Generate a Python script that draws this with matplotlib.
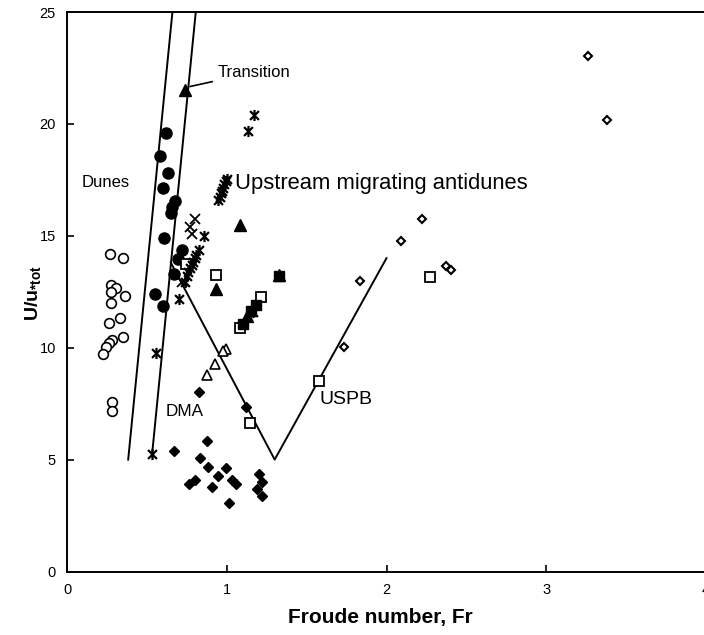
import matplotlib
matplotlib.use("Agg")
import matplotlib.pyplot as plt
from matplotlib.path import Path
import numpy as np

plt.rcParams['font.family'] = ['Liberation Sans', 'DejaVu Sans']
plt.rcParams['mathtext.fontset'] = 'custom'
plt.rcParams['mathtext.rm'] = 'Liberation Sans'
plt.rcParams['mathtext.bf'] = 'Liberation Sans:bold'

# ---- data: Froude number (x) and U/u*tot (y) per bedform group ----
dunes_open_x = [0.269, 0.352, 0.273, 0.304, 0.273, 0.362, 0.273, 0.331, 0.264, 0.348, 0.283, 0.264, 0.244, 0.227, 0.279, 0.279]
dunes_open_y = [14.2, 14.02, 12.78, 12.66, 12.48, 12.33, 12.0, 11.32, 11.11, 10.47, 10.35, 10.2, 10.02, 9.70, 7.57, 7.19]

dunes_fill_x = [0.62, 0.58, 0.63, 0.60, 0.675, 0.66, 0.65, 0.61, 0.72, 0.695, 0.67, 0.55, 0.60]
dunes_fill_y = [19.6, 18.55, 17.8, 17.13, 16.55, 16.28, 16.0, 14.88, 14.35, 13.95, 13.3, 12.38, 11.88]

tri_fill_x = [0.738, 1.085, 0.931, 1.325, 1.127]
tri_fill_y = [21.52, 15.48, 12.63, 13.23, 11.40]

tri_open_x = [0.994, 0.977, 0.925, 0.879]
tri_open_y = [9.95, 9.87, 9.25, 8.79]

dma_x = [0.825, 1.123, 0.879, 0.669, 0.835, 0.883, 0.994, 0.946, 1.035, 1.056, 0.80, 0.765, 0.91, 1.015, 1.202, 1.22, 1.19, 1.22]
dma_y = [8.04, 7.37, 5.85, 5.38, 5.07, 4.66, 4.62, 4.26, 4.11, 3.92, 4.07, 3.89, 3.77, 3.05, 4.37, 3.99, 3.70, 3.37]

sq_open_x = [0.742, 0.935, 1.148, 1.575, 2.275, 1.085, 1.217]
sq_open_y = [13.75, 13.23, 6.64, 8.53, 13.18, 10.88, 12.26]

sq_fill_x = [1.185, 1.154, 1.10, 1.325]
sq_fill_y = [11.89, 11.66, 11.07, 13.20]

dia_open_x = [3.263, 3.383, 2.223, 2.09, 2.37, 2.404, 1.831, 1.733]
dia_open_y = [23.03, 20.18, 15.76, 14.75, 13.67, 13.45, 13.0, 10.05]

umad_x = [1.171, 1.13, 0.945, 0.955, 0.962, 0.97, 0.978, 0.985, 0.993, 1.0,
          0.856, 0.70, 0.56, 0.533,
          0.74, 0.75, 0.76, 0.77, 0.78, 0.79, 0.80, 0.81, 0.825, 1.165]
umad_y = [20.41, 19.68, 16.6, 16.75, 16.9, 17.0, 17.15, 17.3, 17.45, 17.55,
          15.01, 12.18, 9.75, 5.26,
          12.95, 13.2, 13.4, 13.55, 13.7, 13.85, 14.0, 14.15, 14.38, 11.6]

cross_x = [0.80, 0.77, 0.785, 0.72]
cross_y = [15.75, 15.4, 15.1, 12.95]

# ---- boundary lines between bedform fields ----
bound1_x = [0.383, 0.66]
bound1_y = [5.0, 25.0]
bound2_x = [0.533, 0.806]
bound2_y = [5.26, 25.0]
uspb_x = [0.65, 1.30, 2.0]
uspb_y = [13.8, 5.0, 14.0]

x_ticks = [0, 1, 2, 3, 4]
y_ticks = [0, 5, 10, 15, 20, 25]

# asterisk marker: an X crossed by a vertical stroke
ast = Path([(-1, -1), (1, 1), (-1, 1), (1, -1), (0, -1.25), (0, 1.25)],
           [Path.MOVETO, Path.LINETO, Path.MOVETO, Path.LINETO, Path.MOVETO, Path.LINETO])

fig = plt.figure(figsize=(7.04, 6.35), dpi=100)
ax = fig.add_axes([67 / 704, 1 - 571.5 / 635, 639 / 704, 559.5 / 635])

k = 'black'
ax.plot(bound1_x, bound1_y, color=k, lw=1.4)
ax.plot(bound2_x, bound2_y, color=k, lw=1.4)
ax.plot(uspb_x, uspb_y, color=k, lw=1.4)

ax.plot(dunes_open_x, dunes_open_y, 'o', ms=7, mfc='white', mec=k, mew=1.2, ls='none')
ax.plot(dunes_fill_x, dunes_fill_y, 'o', ms=8, mfc=k, mec=k, ls='none')
ax.plot(tri_open_x, tri_open_y, '^', ms=7, mfc='white', mec=k, mew=1.2, ls='none')
ax.plot(dma_x, dma_y, 'D', ms=5.5, mfc=k, mec=k, ls='none')
ax.plot(sq_open_x, sq_open_y, 's', ms=7, mfc='white', mec=k, mew=1.3, ls='none')
ax.plot(sq_fill_x, sq_fill_y, 's', ms=7, mfc=k, mec=k, ls='none')
ax.plot(tri_fill_x, tri_fill_y, '^', ms=8.5, mfc=k, mec=k, ls='none')
ax.plot(dia_open_x, dia_open_y, 'D', ms=4.2, mfc='white', mec=k, mew=1.5, ls='none')
ax.plot(umad_x, umad_y, marker=ast, ms=8, mec=k, mew=1.6, ls='none')
ax.plot(cross_x, cross_y, 'x', ms=7, mec=k, mew=1.3, ls='none')

ax.set_xlim(0, 4)
ax.set_ylim(0, 25)
ax.set_xticks(x_ticks)
ax.set_yticks(y_ticks)
ax.tick_params(direction='in', length=5, width=1.2, labelsize=10.5, pad=8)
for s in ax.spines.values():
    s.set_linewidth(1.4)

ax.text(0.09, 17.4, 'Dunes', fontsize=12, va='center', ha='left')
ax.text(1.05, 17.35, 'Upstream migrating antidunes', fontsize=15.8, va='center', ha='left')
ax.text(0.62, 7.15, 'DMA', fontsize=12.3, va='center', ha='left')
ax.text(1.58, 7.7, 'USPB', fontsize=14, va='center', ha='left')
ax.annotate('Transition', xy=(0.77, 21.67), xytext=(0.944, 22.3), fontsize=12,
            va='center', ha='left',
            arrowprops=dict(arrowstyle='-', color=k, lw=1.2, shrinkA=2, shrinkB=0))

fig.text(380 / 704, 1 - 617 / 635, 'Froude number, Fr', fontsize=15, fontweight='bold',
         ha='center', va='center', family=['Liberation Sans Narrow', 'Liberation Sans'])
fig.text(33 / 704, 1 - 293 / 635, r'$\mathbf{U/u_{*tot}}$', fontsize=14, rotation=90,
         ha='center', va='center')

fig.savefig('out.png', dpi=100)
